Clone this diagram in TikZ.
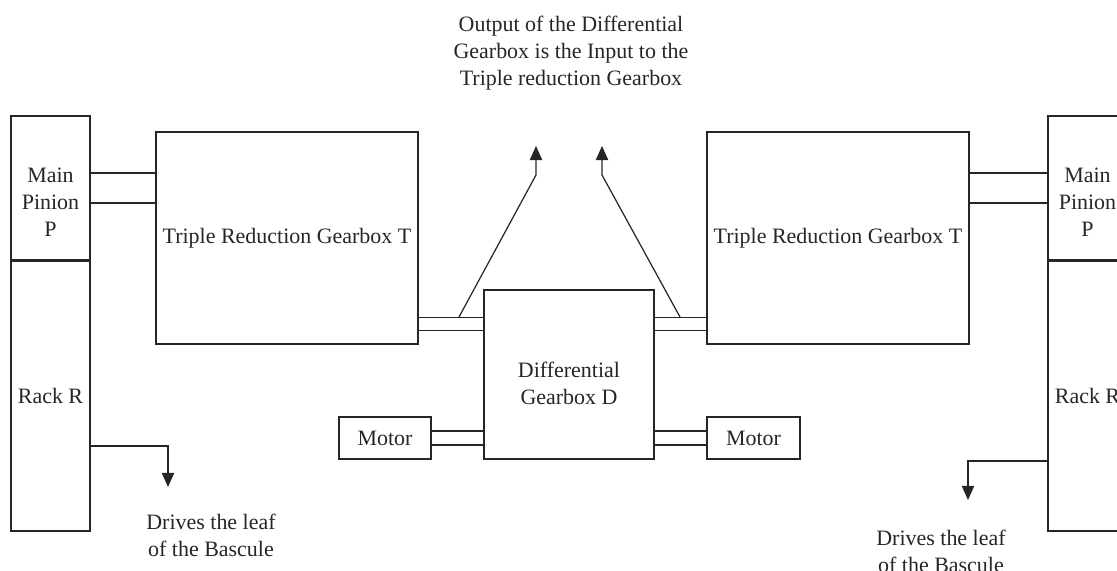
\documentclass[tikz,border=0pt]{standalone}
\usepackage{fontspec}
\setmainfont{Liberation Serif}
\usetikzlibrary{arrows.meta}

\begin{document}
\begin{tikzpicture}[x=0.02cm,y=-0.02cm,->/.style={-{Triangle[length=8pt,width=7pt]}},
        line width=0.7pt,color=black!85,
        font=\fontsize{12.5}{15.4}\selectfont,
        box/.style={draw,rectangle,inner sep=0pt,align=center},
        txt/.style={align=center,inner sep=0pt}]

  \useasboundingbox (0,0) rectangle (1117,571);
  \clip (0,0) rectangle (1117,571);

  % left drive
  \node[box,minimum width=1.58cm,minimum height=2.88cm] (pinL) at (50.5,188) {};
  \node[box,minimum width=1.58cm,minimum height=5.42cm] (rackL) at (50.5,395.5) {Rack R};
  \node[box,minimum width=5.24cm,minimum height=4.24cm] (gbL) at (287,238) {Triple Reduction Gearbox T};
  \node[box,minimum width=1.84cm,minimum height=0.84cm] (motL) at (385,438) {Motor};

  % differential
  \node[box,minimum width=3.40cm,minimum height=3.38cm] (diff) at (569,374.5) {};

  % right drive
  \node[box,minimum width=1.86cm,minimum height=0.84cm] (motR) at (753.5,438) {Motor};
  \node[box,minimum width=5.24cm,minimum height=4.24cm] (gbR) at (838,238) {Triple Reduction Gearbox T};
  \node[box,minimum width=1.58cm,minimum height=2.88cm] (pinR) at (1087.5,188) {};
  \node[box,minimum width=1.58cm,minimum height=5.42cm] (rackR) at (1087.5,395.5) {Rack R};

  \node[txt] at ([yshift=-0.29cm]pinL.center) {Main\\Pinion\\P};
  \node[txt] at ([yshift=-0.29cm]pinR.center) {Main\\Pinion\\P};
  \node[txt] at ([yshift=-0.17cm]diff.center) {Differential\\Gearbox D};

  \draw[line width=1.3pt] (pinL.south west) -- (pinL.south east);
  \draw[line width=1.3pt] (pinR.south west) -- (pinR.south east);

  % shafts
  \foreach \dy in {-15,15} {
    \draw (pinL.east) ++(0,\dy) coordinate (s) -- (s -| gbL.west);
    \draw (pinR.west) ++(0,\dy) coordinate (s) -- (s -| gbR.east);
  }
  \foreach \dy in {-27,-14} {
    \draw (gbL.south east) ++(0,\dy) coordinate (s) -- (s -| diff.west);
    \draw (gbR.south west) ++(0,\dy) coordinate (s) -- (s -| diff.east);
  }
  \foreach \dy in {-7,7} {
    \draw (motL.east) ++(0,\dy) coordinate (s) -- (s -| diff.west);
    \draw (motR.west) ++(0,\dy) coordinate (s) -- (s -| diff.east);
  }

  % outputs of the differential
  \coordinate (tapL) at (459,317);
  \coordinate (bendL) at (536,175);
  \coordinate (outL) at (536,146);
  \coordinate (tapR) at (680,317);
  \coordinate (bendR) at (602,175);
  \coordinate (outR) at (602,146);
  \draw[->] (tapL) -- (bendL) -- (outL);
  \draw[->] (tapR) -- (bendR) -- (outR);

  \node[txt] (note) at (571,53.5) {Output of the Differential\\Gearbox is the Input to the\\Triple reduction Gearbox};

  % to the leaf
  \coordinate (leafL) at (168,487);
  \coordinate (leafR) at (968,500);
  \draw[->] ([yshift=-1.01cm]rackL.east) -| (leafL);
  \draw[->] ([yshift=-1.31cm]rackR.west) -| (leafR);

  \node[txt] (leafLtxt) at (211,535.5) {Drives the leaf\\of the Bascule};
  \node[txt] (leafRtxt) at (941,551.5) {Drives the leaf\\of the Bascule};

\end{tikzpicture}
\end{document}
